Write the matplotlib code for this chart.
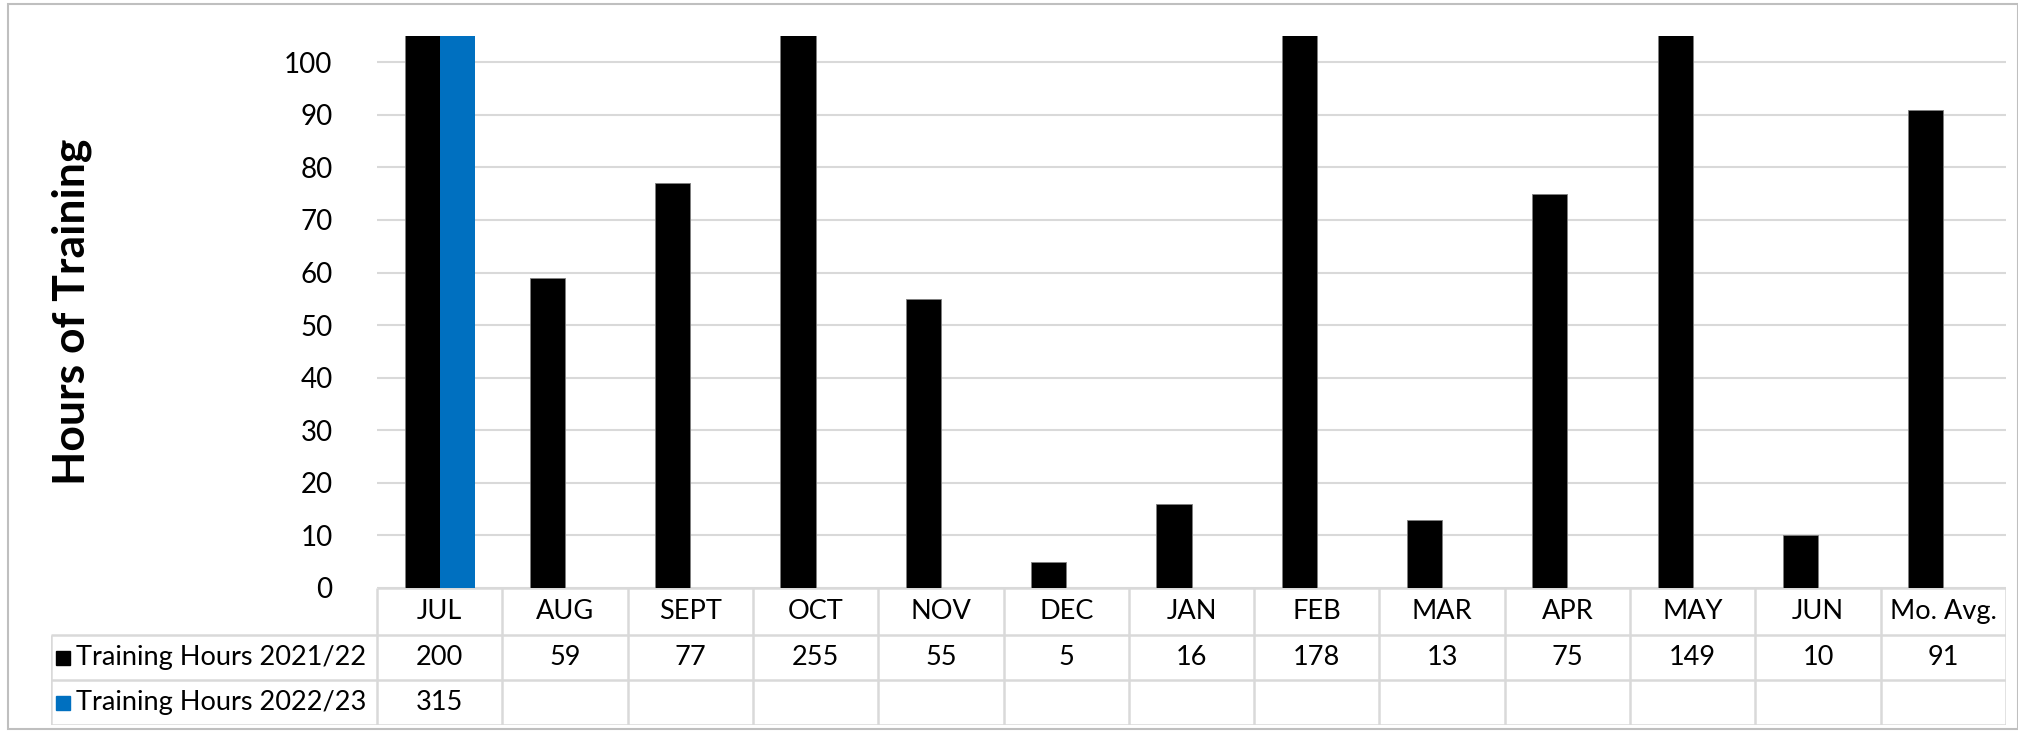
import numpy as np
import matplotlib.pyplot as plt
from matplotlib.patches import Rectangle

plt.rcParams['font.family'] = ['Lato', 'DejaVu Sans']

# data
months = ['JUL', 'AUG', 'SEPT', 'OCT', 'NOV', 'DEC', 'JAN', 'FEB', 'MAR', 'APR', 'MAY', 'JUN', 'Mo. Avg.']
hours_2122 = [200, 59, 77, 255, 55, 5, 16, 178, 13, 75, 149, 10, 91]
hours_2223 = [315, None, None, None, None, None, None, None, None, None, None, None, None]
series_names = ['Training Hours 2021/22', 'Training Hours 2022/23']
colors = ['#000000', '#0070C0']

W, H = 2018, 732
fig = plt.figure(figsize=(W / 100, H / 100), dpi=100)

# pixel layout
px_left, px_right = 377, 2006
px_top, px_base = 36, 588
px_leg = 51
row_px = [588, 635, 680, 725]

ax = fig.add_axes([px_left / W, 1 - px_base / H, (px_right - px_left) / W, (px_base - px_top) / H])
x = np.arange(len(months))
bw = 0.28
v1 = np.array([np.nan if v is None else v for v in hours_2122], dtype=float)
v2 = np.array([np.nan if v is None else v for v in hours_2223], dtype=float)
ax.bar(x - bw / 2, v1, bw, color=colors[0], edgecolor='#7f7f7f', linewidth=0.6, zorder=3)
ax.bar(x + bw / 2, v2, bw, color=colors[1], zorder=3)
ax.set_xlim(-0.5, len(months) - 0.5)
ax.set_ylim(0, 105)
ax.set_yticks(np.arange(0, 101, 10))
ax.set_xticks([])
ax.tick_params(axis='y', length=0, labelsize=20, pad=32)
ax.grid(axis='y', color='#d9d9d9', linewidth=1.5, zorder=0)
for s in ax.spines.values():
    s.set_visible(False)
ax.set_ylabel('Hours of Training', fontsize=32, fontweight='bold', labelpad=0)
ax.yaxis.set_label_coords(-(px_left - 92) / (px_right - px_left), (px_base - 312) / (px_base - px_top), transform=ax.transAxes)

# data table
cw = (px_right - px_left) / len(months)
leg_w = (px_left - px_leg) / cw
tax = fig.add_axes([px_leg / W, 1 - row_px[-1] / H, (px_right - px_leg) / W, (row_px[-1] - row_px[0]) / H])
tax.set_xlim(-0.5 - leg_w, len(months) - 0.5)
tax.set_ylim(row_px[-1], row_px[0])
tax.axis('off')
gc = '#d9d9d9'
lw = 1.8
# horizontal lines
tax.hlines(row_px[0], -0.5, len(months) - 0.5, color=gc, lw=lw)
for r in row_px[1:]:
    tax.hlines(r, -0.5 - leg_w, len(months) - 0.5, color=gc, lw=lw)
# vertical lines
for i in range(len(months) + 1):
    tax.vlines(i - 0.5, row_px[0], row_px[-1], color=gc, lw=lw)
tax.vlines(-0.5 - leg_w, row_px[1], row_px[-1], color=gc, lw=lw)

for i, m in enumerate(months):
    tax.text(i, (row_px[0] + row_px[1]) / 2, m, ha='center', va='center', fontsize=19.5)
for r, (vals, name, c) in enumerate(zip([hours_2122, hours_2223], series_names, colors)):
    yc = (row_px[r + 1] + row_px[r + 2]) / 2
    for i, v in enumerate(vals):
        if v is not None:
            tax.text(i, yc, str(v), ha='center', va='center', fontsize=19.5)
    sq = 14 / cw
    tax.add_patch(Rectangle((-0.5 - leg_w + 5 / cw, yc - 7), sq, 14, color=c, clip_on=False))
    tax.text(-0.5 - leg_w + 25 / cw, yc, name, ha='left', va='center', fontsize=19.5)

# outer chart border
fig.add_artist(Rectangle((8 / W, 1 - 729 / H), (W - 8) / W, 725 / H, transform=fig.transFigure,
                         fill=False, edgecolor='#bfbfbf', linewidth=1.5))

fig.savefig('out.png', dpi=100)
